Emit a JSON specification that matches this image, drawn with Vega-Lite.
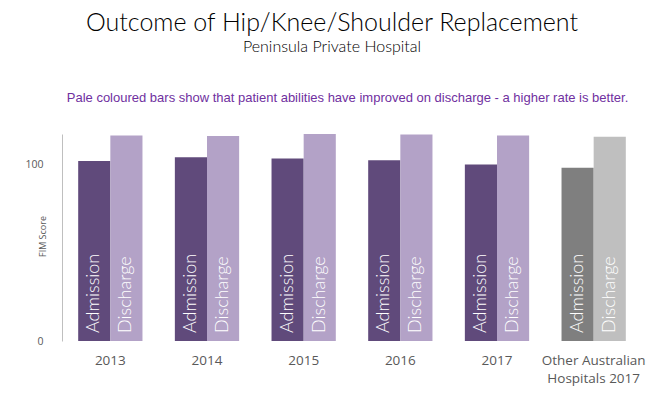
{
  "$schema": "https://vega.github.io/schema/vega-lite/v6.json",
  "width": 580,
  "height": 207,
  "autosize": {"type": "none"},
  "padding": {"left": 62, "top": 134, "right": 21, "bottom": 57},
  "background": "white",
  "title": {
    "text": "Outcome of Hip/Knee/Shoulder Replacement",
    "subtitle": "Peninsula Private Hospital",
    "anchor": "middle",
    "dx": -20,
    "font": "Lato",
    "fontSize": 25,
    "fontWeight": 300,
    "color": "#000000",
    "subtitleFont": "Lato",
    "subtitleFontSize": 16,
    "subtitleFontWeight": 300,
    "subtitleColor": "#000000",
    "subtitlePadding": 3,
    "offset": 36
  },
  "data": {
    "values": [
      {"period": "2013", "stage": "Admission", "series": "Peninsula Admission", "score": 101.7},
      {"period": "2013", "stage": "Discharge", "series": "Peninsula Discharge", "score": 116.1},
      {"period": "2014", "stage": "Admission", "series": "Peninsula Admission", "score": 103.9},
      {"period": "2014", "stage": "Discharge", "series": "Peninsula Discharge", "score": 115.8},
      {"period": "2015", "stage": "Admission", "series": "Peninsula Admission", "score": 103.2},
      {"period": "2015", "stage": "Discharge", "series": "Peninsula Discharge", "score": 117.0},
      {"period": "2016", "stage": "Admission", "series": "Peninsula Admission", "score": 102.1},
      {"period": "2016", "stage": "Discharge", "series": "Peninsula Discharge", "score": 116.7},
      {"period": "2017", "stage": "Admission", "series": "Peninsula Admission", "score": 99.8},
      {"period": "2017", "stage": "Discharge", "series": "Peninsula Discharge", "score": 116.1},
      {"period": "Other Australian\nHospitals 2017", "stage": "Admission", "series": "Other Admission", "score": 97.9},
      {"period": "Other Australian\nHospitals 2017", "stage": "Discharge", "series": "Other Discharge", "score": 115.4}
    ]
  },
  "encoding": {
    "x": {
      "field": "period",
      "type": "nominal",
      "sort": null,
      "scale": {"paddingInner": 0.335, "paddingOuter": 0.1675}
    },
    "xOffset": {"field": "stage", "type": "nominal", "sort": ["Admission", "Discharge"]}
  },
  "layer": [
    {
      "mark": {"type": "bar"},
      "encoding": {
        "x": {
          "field": "period",
          "type": "nominal",
          "sort": null,
          "scale": {"paddingInner": 0.335, "paddingOuter": 0.1675},
          "axis": {
            "title": null,
            "labelAngle": 0,
            "domain": false,
            "ticks": false,
            "labelPadding": 12,
            "labelFont": "Open Sans",
            "labelFontSize": 13.5,
            "labelColor": "#595959",
            "labelLineHeight": 18,
            "labelExpr": "split(datum.label, '\\n')"
          }
        },
        "y": {
          "field": "score",
          "type": "quantitative",
          "scale": {"domain": [0, 117], "nice": false},
          "axis": {
            "values": [0, 100],
            "grid": false,
            "ticks": false,
            "tickSize": 0,
            "labelPadding": 19,
            "labelFont": "Open Sans",
            "labelFontSize": 10.5,
            "labelColor": "#595959",
            "domainColor": "#BFBFBF",
            "title": "FIM Score",
            "titleFont": "Open Sans",
            "titleFontSize": 9,
            "titleFontWeight": "normal",
            "titleColor": "#595959",
            "titleX": -20,
            "titleY": 102,
            "titleAlign": "center",
            "titleBaseline": "middle",
            "titleAngle": -90
          }
        },
        "color": {
          "field": "series",
          "type": "nominal",
          "legend": null,
          "scale": {
            "domain": ["Peninsula Admission", "Peninsula Discharge", "Other Admission", "Other Discharge"],
            "range": ["#604A7B", "#B3A2C7", "#7F7F7F", "#BFBFBF"]
          }
        }
      }
    },
    {
      "mark": {
        "type": "text",
        "angle": 270,
        "align": "left",
        "baseline": "middle",
        "dx": 8,
        "font": "Lato",
        "fontSize": 18,
        "fontWeight": 300,
        "color": "white"
      },
      "encoding": {
        "x": {
          "field": "period",
          "type": "nominal",
          "sort": null,
          "scale": {"paddingInner": 0.335, "paddingOuter": 0.1675},
          "axis": {
            "orient": "top",
            "labels": false,
            "ticks": false,
            "domain": false,
            "title": "Pale coloured bars show that patient abilities have improved on discharge - a higher rate is better.",
            "titleFont": "Liberation Sans",
            "titleFontSize": 13,
            "titleFontWeight": "normal",
            "titleColor": "#7030A0",
            "titleX": 285,
            "titleY": -33,
            "titleAlign": "center",
            "titleBaseline": "alphabetic"
          }
        },
        "y": {"datum": 0, "type": "quantitative"},
        "text": {"field": "stage"}
      }
    }
  ],
  "resolve": {"axis": {"x": "independent"}},
  "config": {"view": {"stroke": null}}
}
